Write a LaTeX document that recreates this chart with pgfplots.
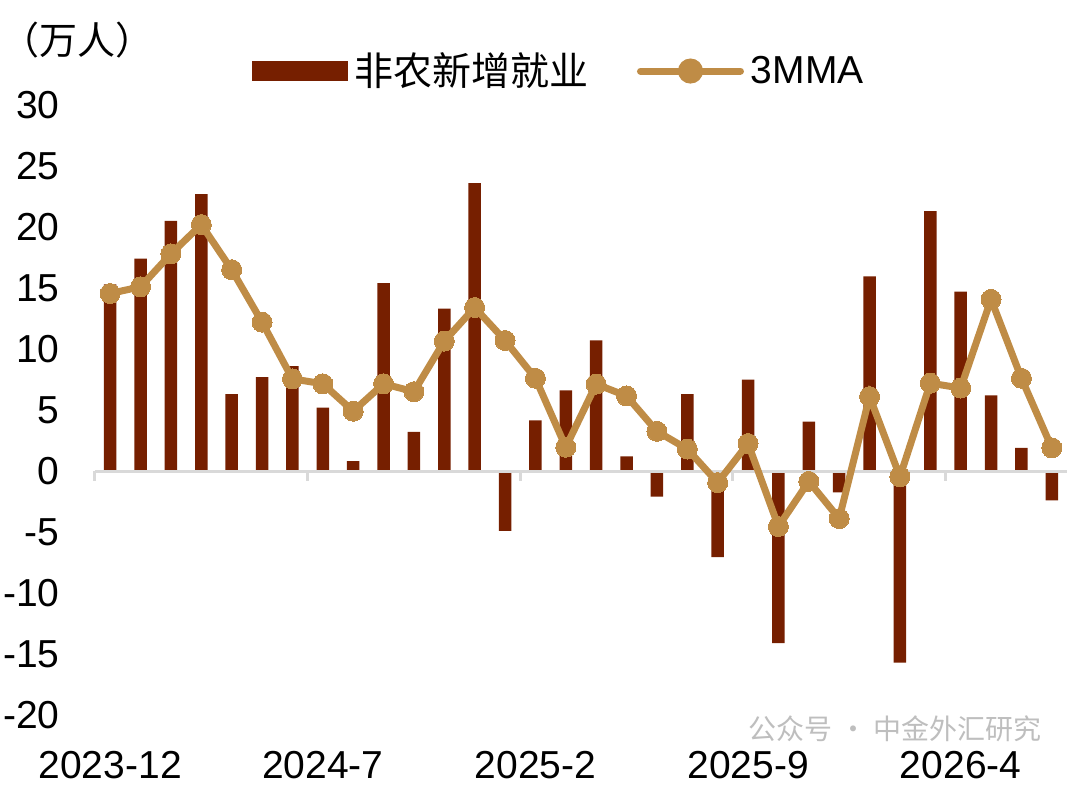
\documentclass[border=0pt]{standalone}
\usepackage{fontspec}
\setmainfont{Liberation Sans}
\newfontfamily\cjk{Noto Sans CJK SC}
\usepackage{pgfplots}
\pgfplotsset{compat=1.18}
\definecolor{barc}{RGB}{118,31,0}
\definecolor{mmac}{RGB}{191,140,70}
\definecolor{axc}{RGB}{217,217,217}
\definecolor{wm}{RGB}{190,190,190}
\begin{document}
\begin{tikzpicture}
\begin{axis}[
  at={(47.5pt,36pt)}, anchor=south west,
  scale only axis, width=486pt, height=305pt,
  xmin=-0.5, xmax=31.5, ymin=-20, ymax=30,
  clip=false,
  axis line style={draw=none},
  tick style={draw=none},
  xtick={0,7,14,21,28},
  xticklabels={2023-12,2024-7,2025-2,2025-9,2026-4},
  ytick={-20,-15,-10,-5,0,5,10,15,20,25,30},
  yticklabels={-20,-15,-10,-5,0,5,10,15,20,25,30},
  ticklabel style={font=\fontsize{19.5pt}{19.5pt}\selectfont, inner sep=0pt},
  yticklabel style={anchor=east, xshift=-17.5pt},
  xticklabel style={anchor=base, yshift=-31.5pt},
  legend style={at={(0.1615,1.0557)}, anchor=west, draw=none, fill=none,
    inner sep=0pt, outer sep=0pt, column sep=3.5pt,
    nodes={inner sep=0pt, font=\fontsize{19.5pt}{19.5pt}\selectfont},
    /tikz/every even column/.append style={column sep=24pt}},
  legend columns=2,
]
\addplot[ybar, bar width=6.25pt, fill=barc, draw=none,
  legend image code/.code={\fill[barc] (0pt,-5pt) rectangle (48pt,5pt);}]
coordinates {
(0,15.3) (1,17.4) (2,20.5) (3,22.7) (4,6.3) (5,7.7) (6,8.6) (7,5.2)
(8,0.8) (9,15.4) (10,3.2) (11,13.3) (12,23.6) (13,-4.9) (14,4.15) (15,6.6)
(16,10.7) (17,1.2) (18,-2.1) (19,6.3) (20,-7.05) (21,7.5) (22,-14.1) (23,4.05)
(24,-1.75) (25,15.95) (26,-15.7) (27,21.3) (28,14.7) (29,6.2) (30,1.9) (31,-2.4)
};
\addlegendentry{\cjk 非农新增就业}
\addplot[forget plot, draw=axc, line width=1.5pt, mark=none]
coordinates {(-0.5,0) (31.5,0)};
\addplot[forget plot, ycomb, draw=axc, line width=1.5pt, mark=none]
coordinates {(-0.5,-0.85) (6.5,-0.85) (13.5,-0.85) (20.5,-0.85) (27.5,-0.85)};
\addplot[mmac, line width=3.5pt, mark=*, mark size=5pt,
  mark options={fill=mmac, draw=mmac, line width=0pt},
  legend image code/.code={\draw[mmac, line width=3.5pt, line cap=round] (0pt,0pt) -- (50pt,0pt); \fill[mmac] (25pt,0pt) circle (4.5pt);}]
coordinates {
(0,14.55) (1,15.1) (2,17.8) (3,20.2) (4,16.5) (5,12.2) (6,7.55) (7,7.15)
(8,4.9) (9,7.15) (10,6.5) (11,10.65) (12,13.4) (13,10.7) (14,7.6) (15,1.95)
(16,7.12) (17,6.15) (18,3.25) (19,1.8) (20,-0.95) (21,2.25) (22,-4.55) (23,-0.85)
(24,-3.9) (25,6.1) (26,-0.47) (27,7.2) (28,6.8) (29,14.07) (30,7.6) (31,1.9)
};
\addlegendentry{3MMA}
\end{axis}
\node[font=\cjk\fontsize{19pt}{19pt}\selectfont, inner sep=0pt, anchor=west] at (0.5pt,373.5pt) {（万人）};
\node[font=\cjk\fontsize{14pt}{14pt}\selectfont, text=wm, inner sep=0pt] at (447.5pt,29pt) {公众号 · 中金外汇研究};
\pgfresetboundingbox
\useasboundingbox (0,0) rectangle (540pt,393.5pt);
\end{tikzpicture}
\end{document}
